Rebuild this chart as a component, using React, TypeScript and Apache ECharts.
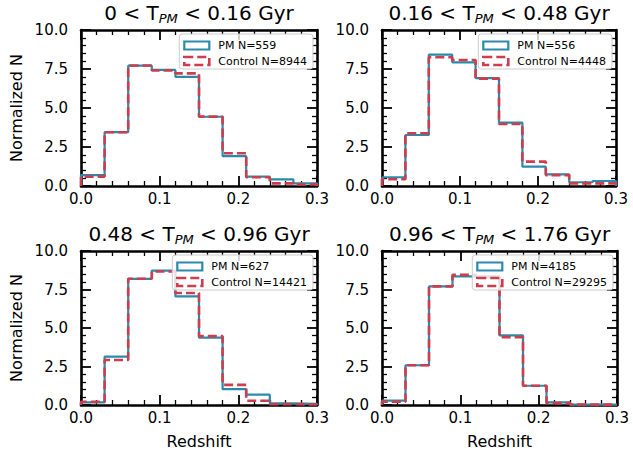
import React, { useEffect, useRef } from "react";
import * as echarts from "echarts";

// ---- data ----
const BIN_EDGES = [0, 0.03, 0.06, 0.09, 0.12, 0.15, 0.18, 0.21, 0.24, 0.27, 0.3];

const PM_1 = [0.7, 3.45, 7.71, 7.44, 7.0, 4.44, 1.92, 0.6, 0.43, 0.17];
const CTRL_1 = [0.6, 3.45, 7.72, 7.4, 7.22, 4.45, 2.1, 0.56, 0.17, 0.1];
const PM_2 = [0.56, 3.27, 8.42, 7.93, 6.92, 4.06, 1.24, 0.75, 0.24, 0.32];
const CTRL_2 = [0.43, 3.38, 8.25, 8.08, 6.88, 3.97, 1.56, 0.7, 0.17, 0.17];
const PM_3 = [0.17, 3.14, 8.19, 8.73, 7.05, 4.37, 1.03, 0.67, 0.1, 0.07];
const CTRL_3 = [0.21, 2.92, 8.2, 8.67, 7.27, 4.47, 1.31, 0.28, 0.05, 0.03];
const PM_4 = [0.28, 2.58, 7.7, 8.35, 8.35, 4.52, 1.25, 0.17, 0.03, 0.02];
const CTRL_4 = [0.21, 2.58, 7.7, 8.45, 8.3, 4.41, 1.25, 0.12, 0.03, 0.02];

const PM_N = [559, 556, 627, 4185];
const CTRL_N = [8944, 4448, 14421, 29295];
const T_LO = ["0", "0.16", "0.48", "0.96"];
const T_HI = ["0.16", "0.48", "0.96", "1.76"];

const X_TICKS = [0, 0.1, 0.2, 0.3];
const Y_TICKS = [0, 2.5, 5, 7.5, 10];

const PM_SETS = [PM_1, PM_2, PM_3, PM_4];
const CTRL_SETS = [CTRL_1, CTRL_2, CTRL_3, CTRL_4];

// ---- style ----
const BLUE = "#2a8aab";
const RED = "#cc3d4e";
const FONT = '"DejaVu Sans", "Liberation Sans", sans-serif';

const GRIDS = [
  { left: 81, top: 30, width: 236, height: 156 },
  { left: 382, top: 30, width: 234, height: 156 },
  { left: 81, top: 251, width: 236, height: 155 },
  { left: 382, top: 251, width: 235, height: 155 },
];

function stepPoints(vals: number[]) {
  const pts: number[][] = [[BIN_EDGES[0], 0]];
  vals.forEach((v, i) => {
    pts.push([BIN_EDGES[i], v]);
    pts.push([BIN_EDGES[i + 1], v]);
  });
  pts.push([BIN_EDGES[BIN_EDGES.length - 1], 0]);
  return pts;
}

function measure(text: string, font: string) {
  const c = document.createElement("canvas").getContext("2d");
  if (!c) return text.length * 6.5;
  c.font = font;
  return c.measureText(text).width;
}

export default function App() {
  const ref = useRef<HTMLDivElement>(null);
  useEffect(() => {
    if (!ref.current) return;
    const chart = echarts.init(ref.current, undefined, { renderer: "svg" });

    const xAxes: any[] = [];
    const yAxes: any[] = [];
    const series: any[] = [];
    const graphics: any[] = [];

    const tickCommon = {
      axisTick: { show: true, inside: true, length: 10, lineStyle: { color: "#000", width: 1.8 } },
      minorTick: { show: true, splitNumber: 5, length: 5, lineStyle: { color: "#000", width: 1.3 } },
      axisLine: { show: true, onZero: false, lineStyle: { color: "#000", width: 2.6 } },
      splitLine: { show: false },
    };

    GRIDS.forEach((g, i) => {
      const bottomRow = i >= 2;
      const leftCol = i % 2 === 0;
      // bottom x
      xAxes.push({
        type: "value",
        gridIndex: i,
        position: "bottom",
        min: X_TICKS[0],
        max: X_TICKS[X_TICKS.length - 1],
        interval: X_TICKS[1] - X_TICKS[0],
        ...tickCommon,
        axisLabel: {
          show: true,
          margin: 5,
          color: "#000",
          fontFamily: FONT,
          fontSize: 15,
          formatter: (v: number) => v.toFixed(1),
        },
        name: bottomRow ? "Redshift" : "",
        nameLocation: "middle",
        nameGap: 28,
        nameTextStyle: { color: "#000", fontFamily: FONT, fontSize: 16 },
      });
      // top x
      xAxes.push({
        type: "value",
        gridIndex: i,
        position: "top",
        min: X_TICKS[0],
        max: X_TICKS[X_TICKS.length - 1],
        interval: X_TICKS[1] - X_TICKS[0],
        ...tickCommon,
        axisLabel: { show: false },
      });
      yAxes.push({
        type: "value",
        gridIndex: i,
        position: "left",
        min: Y_TICKS[0],
        max: Y_TICKS[Y_TICKS.length - 1],
        interval: Y_TICKS[1] - Y_TICKS[0],
        ...tickCommon,
        axisLabel: {
          show: true,
          margin: 13,
          color: "#000",
          fontFamily: FONT,
          fontSize: 15,
          formatter: (v: number) => v.toFixed(1),
        },
        name: leftCol ? "Normalized N" : "",
        nameLocation: "middle",
        nameGap: 57,
        nameTextStyle: { color: "#000", fontFamily: FONT, fontSize: 16 },
      });
      yAxes.push({
        type: "value",
        gridIndex: i,
        position: "right",
        min: Y_TICKS[0],
        max: Y_TICKS[Y_TICKS.length - 1],
        interval: Y_TICKS[1] - Y_TICKS[0],
        ...tickCommon,
        axisLabel: { show: false },
      });

      const pmName = `PM N=${PM_N[i]}`;
      const ctName = `Control N=${CTRL_N[i]}`;
      series.push({
        type: "line",
        name: pmName,
        xAxisIndex: i * 2,
        yAxisIndex: i * 2,
        data: stepPoints(PM_SETS[i]),
        showSymbol: false,
        symbol: "none",
        lineStyle: { color: BLUE, width: 2.2 },
        z: 2,
      });
      series.push({
        type: "line",
        name: ctName,
        xAxisIndex: i * 2,
        yAxisIndex: i * 2,
        data: stepPoints(CTRL_SETS[i]),
        showSymbol: false,
        symbol: "none",
        lineStyle: { color: RED, width: 2.6, type: [9, 4] },
        z: 3,
      });

      // title
      graphics.push({
        type: "text",
        x: g.left + g.width / 2,
        y: g.top - 5,
        z: 100,
        style: {
          text: `{a|${T_LO[i]} < T}{s|PM}{a| < ${T_HI[i]} Gyr}`,
          textAlign: "center",
          verticalAlign: "bottom",
          fontWeight: "normal",
          rich: {
            a: {
              fontFamily: FONT,
              fontSize: 20,
              fontWeight: "normal",
              fill: "#000",
              lineHeight: 24,
              verticalAlign: "middle",
            },
            s: {
              fontFamily: FONT,
              fontSize: 13,
              fontWeight: "normal",
              fontStyle: "italic",
              fill: "#000",
              lineHeight: 24,
              verticalAlign: "bottom",
            },
          },
        },
      });

      // legend
      const lf = `11px ${FONT}`;
      const tw = Math.max(measure(pmName, lf), measure(ctName, lf));
      const boxW = 5 + 25 + 9 + tw + 6;
      const boxRight = g.left + g.width - 4;
      const boxLeft = boxRight - boxW;
      const boxTop = g.top + 4;
      const boxH = 35;
      graphics.push({
        type: "group",
        z: 100,
        children: [
          {
            type: "rect",
            shape: { x: boxLeft, y: boxTop, width: boxW, height: boxH, r: 3 },
            style: { fill: "rgba(255,255,255,0.8)", stroke: "#cccccc", lineWidth: 1 },
            z: 100,
          },
          {
            type: "rect",
            shape: { x: boxLeft + 5, y: boxTop + 7.5, width: 25, height: 8 },
            style: { fill: "none", stroke: BLUE, lineWidth: 2.2 },
            z: 101,
          },
          {
            type: "rect",
            shape: { x: boxLeft + 5, y: boxTop + 23, width: 25, height: 8 },
            style: { fill: "none", stroke: RED, lineWidth: 2.6, lineDash: [9, 4] },
            z: 101,
          },
          {
            type: "text",
            x: boxLeft + 39,
            y: boxTop + 11.5,
            z: 101,
            style: { text: pmName, font: lf, fill: "#000", verticalAlign: "middle" },
          },
          {
            type: "text",
            x: boxLeft + 39,
            y: boxTop + 27,
            z: 101,
            style: { text: ctName, font: lf, fill: "#000", verticalAlign: "middle" },
          },
        ],
      });
    });

    chart.setOption({
      animation: false,
      backgroundColor: "#ffffff",
      grid: GRIDS.map((g) => ({ ...g, containLabel: false })),
      xAxis: xAxes,
      yAxis: yAxes,
      series,
      graphic: graphics,
    });
    return () => chart.dispose();
  }, []);
  return (
    <div
      ref={ref}
      style={{ position: "fixed", left: 0, top: 0, width: 633, height: 450, background: "#fff" }}
    />
  );
}
